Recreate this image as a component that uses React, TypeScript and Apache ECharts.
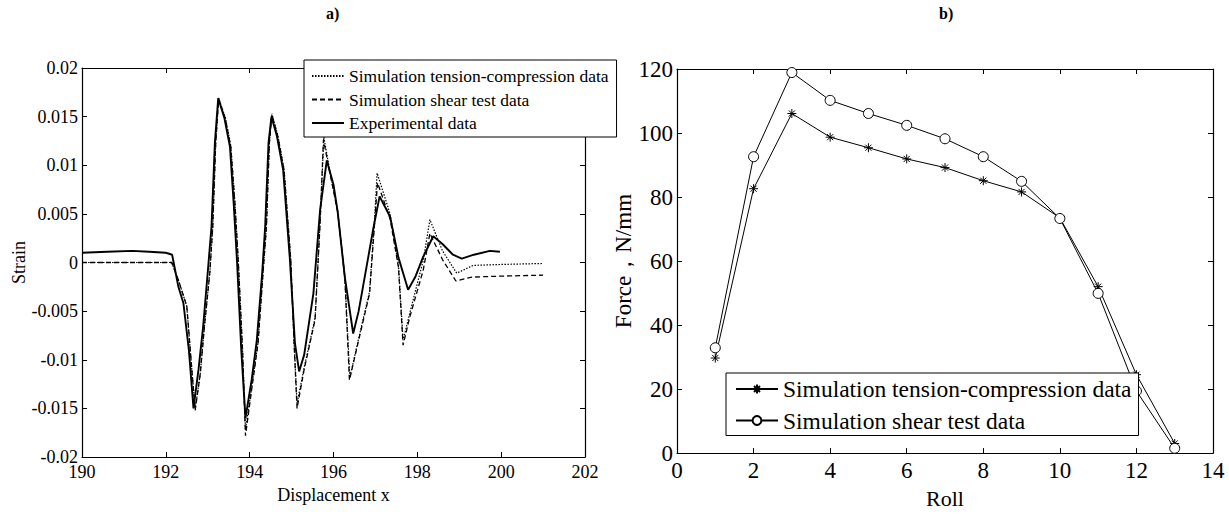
import React, { useEffect, useRef } from "react";
import * as echarts from "echarts";

// ---------- Chart a) : strain vs displacement ----------
const xTicksA = [190, 192, 194, 196, 198, 200, 202];
const yTicksA = [-0.02, -0.015, -0.01, -0.005, 0, 0.005, 0.01, 0.015, 0.02];

const tensionCompressionStrain: [number, number][] = [
  [190, 0], [191, 0], [192.14, 0], [192.3, -0.0018], [192.5, -0.0045], [192.62, -0.011], [192.7, -0.015],
  [192.82, -0.0115], [192.92, -0.0066], [193.05, -0.001], [193.12, 0.0037], [193.19, 0.0123], [193.26, 0.0169],
  [193.42, 0.0149], [193.55, 0.012], [193.65, 0.006], [193.73, 0], [193.83, -0.009], [193.9, -0.0172],
  [194.05, -0.0128], [194.2, -0.0082], [194.32, -0.001], [194.4, 0.0037], [194.47, 0.0123], [194.53, 0.0153],
  [194.67, 0.0131], [194.82, 0.0096], [194.98, 0.0003], [195.06, -0.0083], [195.13, -0.0145], [195.3, -0.0108],
  [195.56, -0.0057], [195.68, 0.0042], [195.77, 0.0129], [195.9, 0.0097], [196.1, 0.0053], [196.27, -0.0015],
  [196.39, -0.0118], [196.6, -0.0078], [196.86, -0.003], [196.98, 0.0045], [197.04, 0.0092], [197.35, 0.005],
  [197.55, -0.0003], [197.66, -0.008], [197.82, -0.0052], [198.14, 0.0002], [198.3, 0.0044], [198.6, 0.0012],
  [198.94, -0.0011], [199.33, -0.0003], [200, -0.0002], [201, -0.0001],
];

const shearTestStrain: [number, number][] = [
  [190, 0], [191, 0], [192.14, 0], [192.3, -0.0018], [192.5, -0.0045], [192.62, -0.011], [192.7, -0.0152],
  [192.82, -0.0115], [192.92, -0.0066], [193.05, -0.001], [193.12, 0.0037], [193.19, 0.0123], [193.26, 0.0168],
  [193.42, 0.0148], [193.55, 0.0119], [193.65, 0.006], [193.73, 0], [193.83, -0.009], [193.9, -0.0178],
  [194.05, -0.013], [194.2, -0.0083], [194.32, -0.001], [194.4, 0.0037], [194.47, 0.0123], [194.53, 0.0152],
  [194.67, 0.013], [194.82, 0.0095], [194.98, 0.0003], [195.06, -0.0083], [195.13, -0.015], [195.3, -0.011],
  [195.56, -0.0059], [195.68, 0.004], [195.76, 0.0126], [195.9, 0.0095], [196.1, 0.0052], [196.27, -0.0015],
  [196.38, -0.0121], [196.6, -0.008], [196.86, -0.0032], [196.98, 0.004], [197.05, 0.0082], [197.35, 0.0045],
  [197.55, -0.0005], [197.66, -0.0085], [197.82, -0.0056], [198.14, -0.0008], [198.3, 0.003], [198.6, 0.0003],
  [198.92, -0.0019], [199.3, -0.0015], [200, -0.0014], [201, -0.0013],
];

const experimentalStrain: [number, number][] = [
  [190, 0.001], [190.6, 0.0011], [191.2, 0.0012], [191.6, 0.0011], [192.0, 0.001], [192.15, 0.0008],
  [192.3, -0.0025], [192.42, -0.0042], [192.55, -0.009], [192.66, -0.015], [192.78, -0.011], [192.89, -0.0066],
  [193.0, -0.001], [193.09, 0.0037], [193.17, 0.0123], [193.25, 0.0169], [193.4, 0.0148], [193.53, 0.0119],
  [193.62, 0.006], [193.7, 0], [193.8, -0.009], [193.9, -0.016], [194.05, -0.012], [194.17, -0.008],
  [194.3, -0.001], [194.37, 0.0037], [194.45, 0.0123], [194.52, 0.015], [194.65, 0.013], [194.8, 0.0095],
  [194.96, 0.0003], [195.08, -0.0083], [195.18, -0.0112], [195.3, -0.0095], [195.52, -0.0032], [195.68, 0.0054],
  [195.84, 0.0105], [196.0, 0.008], [196.1, 0.0052], [196.27, -0.0015], [196.47, -0.0073], [196.6, -0.005],
  [196.79, -0.0004], [196.95, 0.0035], [197.1, 0.0068], [197.35, 0.0047], [197.55, 0.0005], [197.78, -0.0028],
  [197.95, -0.0015], [198.14, 0.0006], [198.38, 0.0027], [198.6, 0.0019], [198.85, 0.0008], [199.06, 0.0004],
  [199.35, 0.0008], [199.73, 0.0012], [199.97, 0.0011],
];

// ---------- Chart b) : force vs roll ----------
const xTicksB = [0, 2, 4, 6, 8, 10, 12, 14];
const yTicksB = [0, 20, 40, 60, 80, 100, 120];
const rolls = [1, 2, 3, 4, 5, 6, 7, 8, 9, 10, 11, 12, 13];
const tensionCompressionForce = [29.7, 82.6, 106.1, 98.7, 95.4, 91.9, 89.2, 85.1, 81.6, 73.5, 52.0, 24.5, 3.0];
const shearTestForce = [32.9, 92.6, 118.9, 110.2, 106.1, 102.4, 98.2, 92.6, 84.9, 73.3, 49.9, 19.4, 1.5];

const legendLabels: Record<string, string> = {
  aTC: "Simulation tension-compression data",
  aShear: "Simulation shear test data",
  aExp: "Experimental data",
  bTC: "Simulation tension-compression data",
  bShear: "Simulation shear test data",
};

const FONT = "Liberation Serif";
const STAR = "path://M5,0L5,10M0,5L10,5M1.6,1.6L8.4,8.4M8.4,1.6L1.6,8.4";

function boxAxes(
  kind: "x" | "y",
  ticks: number[],
  gridIndex: number,
  labelSize: number,
  name: string,
  nameGap: number,
  nameSize: number,
  labelMargin: number
) {
  const min = ticks[0];
  const max = ticks[ticks.length - 1];
  const interval = ticks[1] - ticks[0];
  const common = {
    type: "value",
    gridIndex,
    min,
    max,
    interval,
    splitLine: { show: false },
    axisLine: { show: true, onZero: false, lineStyle: { color: "#000", width: 1.2 } },
    axisTick: { show: true, inside: true, length: 5, lineStyle: { color: "#000", width: 1 } },
  };
  return [
    {
      ...common,
      position: kind === "x" ? "bottom" : "left",
      name,
      nameLocation: "middle",
      nameGap,
      nameTextStyle: { fontFamily: FONT, fontSize: nameSize, color: "#000", fontWeight: "normal" },
      axisLabel: {
        show: true,
        fontFamily: FONT,
        fontWeight: "normal",
        fontSize: labelSize,
        color: "#000",
        margin: labelMargin,
        formatter: (v: number) => String(Math.round(v * 1e6) / 1e6),
      },
    },
    {
      ...common,
      position: kind === "x" ? "top" : "right",
      axisLabel: { show: false },
    },
  ];
}

export default function App() {
  const ref = useRef<HTMLDivElement>(null);

  useEffect(() => {
    if (!ref.current) return;
    const chart = echarts.init(ref.current, undefined, { renderer: "svg" });

    const xAxes = [
      ...boxAxes("x", xTicksA, 0, 18, "Displacement x", 23, 18, 6),
      ...boxAxes("x", xTicksB, 1, 23, "Roll", 27, 22, 6),
    ];
    const yAxes = [
      ...boxAxes("y", yTicksA, 0, 18, "Strain", 46, 18, 4),
      ...boxAxes("y", yTicksB, 1, 23, "Force，N/mm", 29, 23, 4),
    ];

    chart.setOption({
      animation: false,
      backgroundColor: "#fff",
      textStyle: { fontFamily: FONT },
      grid: [
        { left: 82, top: 68, right: 644, bottom: 57 },
        { left: 677, top: 69, right: 16, bottom: 54 },
      ],
      xAxis: xAxes,
      yAxis: yAxes,
      legend: [
        {
          data: ["aTC", "aShear", "aExp"],
          formatter: (n: string) => legendLabels[n],
          orient: "vertical",
          left: 304,
          top: 60,
          padding: [6, 8, 4, 7],
          itemGap: 3.5,
          itemWidth: 32,
          itemHeight: 10,
          backgroundColor: "#fff",
          borderColor: "#000",
          borderWidth: 1,
          selectedMode: false,
          textStyle: { fontFamily: FONT, fontSize: 17.5, color: "#000", lineHeight: 20 },
          itemStyle: { opacity: 0 },
        },
        {
          data: ["bTC", "bShear"],
          formatter: (n: string) => legendLabels[n],
          orient: "vertical",
          left: 726,
          top: 373,
          padding: [3, 7, 2, 9],
          itemGap: 5.5,
          itemWidth: 42,
          itemHeight: 11,
          backgroundColor: "#fff",
          borderColor: "#000",
          borderWidth: 1,
          selectedMode: false,
          textStyle: { fontFamily: FONT, fontSize: 23.5, color: "#000", lineHeight: 26 },
        },
      ],
      graphic: [
        {
          type: "text",
          left: 326,
          top: 5,
          style: { text: "a)", font: `bold 16px ${FONT}`, fill: "#000" },
        },
        {
          type: "text",
          left: 939,
          top: 5,
          style: { text: "b)", font: `bold 16px ${FONT}`, fill: "#000" },
        },
      ],
      series: [
        {
          id: "aTC",
          name: "aTC",
          type: "line",
          xAxisIndex: 0,
          yAxisIndex: 0,
          data: tensionCompressionStrain,
          symbol: "none",
          lineStyle: { color: "#000", width: 1.2, type: [1.5, 1.5] },
          itemStyle: { color: "#000" },
        },
        {
          id: "aShear",
          name: "aShear",
          type: "line",
          xAxisIndex: 0,
          yAxisIndex: 0,
          data: shearTestStrain,
          symbol: "none",
          lineStyle: { color: "#000", width: 1.3, type: [5, 3] },
          itemStyle: { color: "#000" },
        },
        {
          id: "aExp",
          name: "aExp",
          type: "line",
          xAxisIndex: 0,
          yAxisIndex: 0,
          data: experimentalStrain,
          symbol: "none",
          lineStyle: { color: "#000", width: 1.9 },
          itemStyle: { color: "#000" },
        },
        {
          id: "bTC",
          name: "bTC",
          type: "line",
          xAxisIndex: 2,
          yAxisIndex: 2,
          data: rolls.map((r, i) => [r, tensionCompressionForce[i]]),
          symbol: STAR,
          symbolSize: 9,
          lineStyle: { color: "#000", width: 1 },
          itemStyle: { color: "#000", borderColor: "#000", borderWidth: 1 },
        },
        {
          id: "bShear",
          name: "bShear",
          type: "line",
          xAxisIndex: 2,
          yAxisIndex: 2,
          data: rolls.map((r, i) => [r, shearTestForce[i]]),
          symbol: "circle",
          symbolSize: 10,
          lineStyle: { color: "#000", width: 1 },
          itemStyle: { color: "#fff", borderColor: "#000", borderWidth: 1 },
        },
      ],
    });

    return () => chart.dispose();
  }, []);

  return (
    <div
      ref={ref}
      style={{ position: "absolute", left: 0, top: 0, width: 1229, height: 514, background: "#fff" }}
    />
  );
}
